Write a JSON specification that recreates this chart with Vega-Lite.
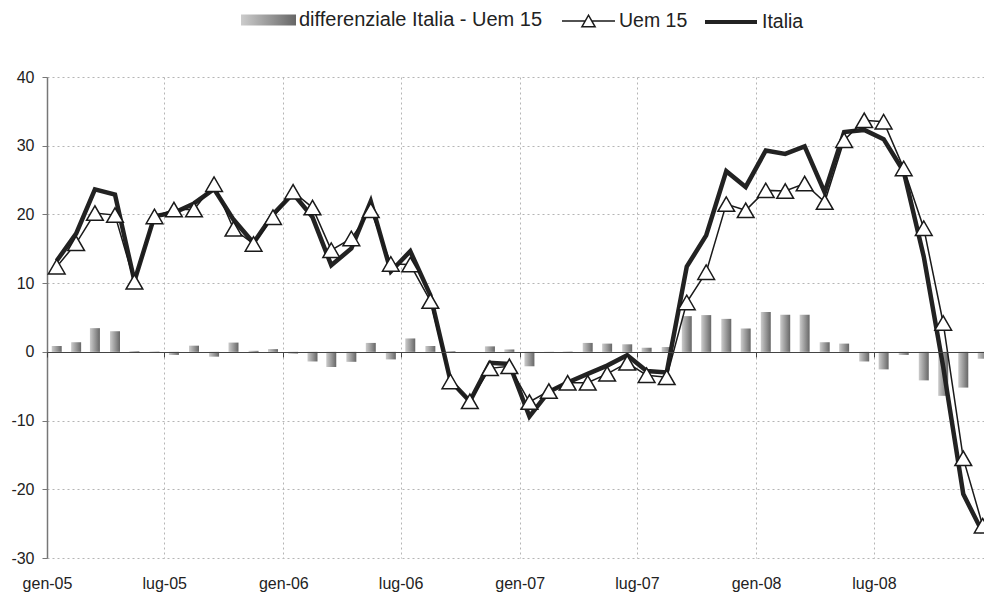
{
  "$schema": "https://vega.github.io/schema/vega-lite/v6.json",
  "width": 937,
  "height": 481,
  "autosize": {"type": "none"},
  "padding": {"left": 47, "top": 77, "right": 0, "bottom": 36},
  "background": "#ffffff",
  "config": {"view": {"stroke": null}, "font": "Liberation Sans", "legend": {"padding": 0, "labelLimit": 500}},
  "data": {
    "values": [
      {"mese": "2005-01-16", "uem": 12.4, "italia": 13.25, "diff": 0.85},
      {"mese": "2005-02-15", "uem": 15.8, "italia": 17.2, "diff": 1.4},
      {"mese": "2005-03-16", "uem": 20.2, "italia": 23.65, "diff": 3.45},
      {"mese": "2005-04-16", "uem": 19.9, "italia": 22.9, "diff": 3.0},
      {"mese": "2005-05-16", "uem": 10.2, "italia": 10.3, "diff": 0.1},
      {"mese": "2005-06-16", "uem": 19.7, "italia": 19.75, "diff": 0.05},
      {"mese": "2005-07-16", "uem": 20.7, "italia": 20.25, "diff": -0.45},
      {"mese": "2005-08-16", "uem": 20.7, "italia": 21.6, "diff": 0.9},
      {"mese": "2005-09-16", "uem": 24.4, "italia": 23.7, "diff": -0.7},
      {"mese": "2005-10-16", "uem": 17.9, "italia": 19.25, "diff": 1.35},
      {"mese": "2005-11-16", "uem": 15.7, "italia": 15.85, "diff": 0.15},
      {"mese": "2005-12-16", "uem": 19.6, "italia": 20.0, "diff": 0.4},
      {"mese": "2006-01-16", "uem": 23.3, "italia": 23.05, "diff": -0.25},
      {"mese": "2006-02-15", "uem": 21.0, "italia": 19.6, "diff": -1.4},
      {"mese": "2006-03-16", "uem": 14.8, "italia": 12.6, "diff": -2.2},
      {"mese": "2006-04-16", "uem": 16.5, "italia": 15.05, "diff": -1.45},
      {"mese": "2006-05-16", "uem": 20.6, "italia": 21.9, "diff": 1.3},
      {"mese": "2006-06-16", "uem": 12.8, "italia": 11.7, "diff": -1.1},
      {"mese": "2006-07-16", "uem": 12.7, "italia": 14.65, "diff": 1.95},
      {"mese": "2006-08-16", "uem": 7.4, "italia": 8.25, "diff": 0.85},
      {"mese": "2006-09-16", "uem": -4.3, "italia": -4.2, "diff": 0.1},
      {"mese": "2006-10-16", "uem": -7.2, "italia": -7.2, "diff": 0.0},
      {"mese": "2006-11-16", "uem": -2.4, "italia": -1.6, "diff": 0.8},
      {"mese": "2006-12-16", "uem": -2.1, "italia": -1.75, "diff": 0.35},
      {"mese": "2007-01-16", "uem": -7.3, "italia": -9.4, "diff": -2.1},
      {"mese": "2007-02-15", "uem": -5.7, "italia": -5.8, "diff": -0.1},
      {"mese": "2007-03-16", "uem": -4.5, "italia": -4.45, "diff": 0.05},
      {"mese": "2007-04-16", "uem": -4.5, "italia": -3.2, "diff": 1.3},
      {"mese": "2007-05-16", "uem": -3.2, "italia": -2.0, "diff": 1.2},
      {"mese": "2007-06-16", "uem": -1.6, "italia": -0.5, "diff": 1.1},
      {"mese": "2007-07-16", "uem": -3.4, "italia": -2.8, "diff": 0.6},
      {"mese": "2007-08-16", "uem": -3.7, "italia": -3.0, "diff": 0.7},
      {"mese": "2007-09-16", "uem": 7.2, "italia": 12.4, "diff": 5.2},
      {"mese": "2007-10-16", "uem": 11.6, "italia": 16.95, "diff": 5.35},
      {"mese": "2007-11-16", "uem": 21.5, "italia": 26.3, "diff": 4.8},
      {"mese": "2007-12-16", "uem": 20.6, "italia": 24.0, "diff": 3.4},
      {"mese": "2008-01-16", "uem": 23.5, "italia": 29.3, "diff": 5.8},
      {"mese": "2008-02-15", "uem": 23.4, "italia": 28.8, "diff": 5.4},
      {"mese": "2008-03-16", "uem": 24.5, "italia": 29.9, "diff": 5.4},
      {"mese": "2008-04-16", "uem": 21.8, "italia": 23.2, "diff": 1.4},
      {"mese": "2008-05-16", "uem": 30.8, "italia": 32.0, "diff": 1.2},
      {"mese": "2008-06-16", "uem": 33.7, "italia": 32.3, "diff": -1.4},
      {"mese": "2008-07-16", "uem": 33.5, "italia": 30.95, "diff": -2.55},
      {"mese": "2008-08-16", "uem": 26.7, "italia": 26.25, "diff": -0.45},
      {"mese": "2008-09-16", "uem": 18.0, "italia": 13.85, "diff": -4.15},
      {"mese": "2008-10-16", "uem": 4.2, "italia": -2.2, "diff": -6.4},
      {"mese": "2008-11-16", "uem": -15.5, "italia": -20.7, "diff": -5.2},
      {"mese": "2008-12-16", "uem": -25.3, "italia": -26.3, "diff": -1.0}
    ]
  },
  "layer": [
    {
      "mark": {"type": "bar", "size": 10, "fill": {"gradient": "linear", "x1": 0, "y1": 0, "x2": 1, "y2": 0, "stops": [{"offset": 0, "color": "#cccccc"}, {"offset": 0.55, "color": "#959595"}, {"offset": 1, "color": "#666666"}]}},
      "encoding": {
        "x": {
          "field": "mese", "type": "temporal",
          "scale": {"type": "utc", "padding": 0, "domain": [{"year": 2005, "month": 1, "date": 1, "utc": true}, {"year": 2008, "month": 12, "date": 18, "utc": true}]},
          "axis": {
            "orient": "bottom", "title": null, "grid": true, "gridColor": "#b5b5b5", "gridDash": [2, 3], "gridWidth": 1,
            "domain": false, "ticks": false, "labelFontSize": 16, "labelColor": "#222", "labelPadding": 17,
            "labelFlush": false, "labelOverlap": false, "tickCount": {"interval": "month", "step": 6},
            "labelExpr": "['gen','feb','mar','apr','mag','giu','lug','ago','set','ott','nov','dic'][utcmonth(datum.value)] + '-' + utcFormat(datum.value, '%y')"
          }
        },
        "y": {
          "field": "diff", "type": "quantitative",
          "scale": {"domain": [-30, 40], "nice": false},
          "axis": {
            "title": null, "values": [-30, -20, -10, 0, 10, 20, 30, 40], "grid": true, "gridColor": "#b5b5b5", "gridDash": [2, 3],
            "domain": true, "domainColor": "#777", "domainWidth": 1.5, "ticks": true, "tickSize": 5, "tickColor": "#777",
            "labelFontSize": 16, "labelColor": "#222", "labelPadding": 8,
            "labelExpr": "'' + datum.value"
          }
        },
        "opacity": {
          "datum": "differenziale Italia - Uem 15", "type": "nominal",
          "scale": {"range": [1]},
          "legend": {
            "orient": "none", "legendX": 194, "legendY": -84.5, "title": null,
            "symbolType": "M-1,-0.2H1V0.2H-1Z", "symbolSize": 3025, "symbolStrokeWidth": 0,
            "labelFontSize": 20, "labelColor": "#222", "labelOffset": 3,
            "encode": {"symbols": {"update": {"fill": {"value": {"gradient": "linear", "x1": 0, "y1": 0, "x2": 1, "y2": 0, "stops": [{"offset": 0, "color": "#d6d6d6"}, {"offset": 0.55, "color": "#a2a2a2"}, {"offset": 1, "color": "#727272"}]}}, "opacity": {"value": 1}}}}
          }
        }
      }
    },
    {
      "mark": {"type": "line", "strokeWidth": 4.5, "strokeJoin": "miter"},
      "encoding": {
        "x": {
          "field": "mese", "type": "temporal",
          "axis": {
            "orient": "bottom", "offset": -206, "title": null, "grid": false, "labels": false,
            "domain": true, "domainColor": "#444", "domainWidth": 1.2, "ticks": true, "tickSize": 5, "tickColor": "#444",
            "tickCount": {"interval": "month", "step": 6}, "zindex": 1
          }
        },
        "y": {"field": "italia", "type": "quantitative"},
        "stroke": {
          "datum": "Italia", "type": "nominal",
          "scale": {"range": ["#222222"]},
          "legend": {
            "orient": "none", "legendX": 656, "legendY": -83, "title": null,
            "symbolType": "M-1,0H1", "symbolSize": 2704, "symbolStrokeWidth": 4,
            "labelFontSize": 19.5, "labelColor": "#222", "labelOffset": 3
          }
        }
      }
    },
    {
      "mark": {
        "type": "line", "strokeWidth": 1.5,
        "point": {"shape": "triangle-up", "filled": true, "fill": "#ffffff", "stroke": "#1a1a1a", "strokeWidth": 1.5, "size": 280, "opacity": 1}
      },
      "encoding": {
        "x": {"field": "mese", "type": "temporal", "axis": null},
        "y": {"field": "uem", "type": "quantitative"},
        "stroke": {
          "datum": "Uem 15", "type": "nominal",
          "scale": {"range": ["#1a1a1a"]},
          "legend": {
            "orient": "none", "legendX": 514, "legendY": -83.5, "title": null,
            "symbolType": "M-1,0H-0.13M0.13,0H1M-0.25,0.22L0,-0.22L0.25,0.22Z", "symbolSize": 2809, "symbolStrokeWidth": 1.5,
            "symbolFillColor": "#ffffff",
            "labelFontSize": 19.5, "labelColor": "#222", "labelOffset": 3
          }
        }
      }
    }
  ],
  "resolve": {"scale": {"stroke": "independent", "fill": "independent"}, "axis": {"x": "independent"}}
}
